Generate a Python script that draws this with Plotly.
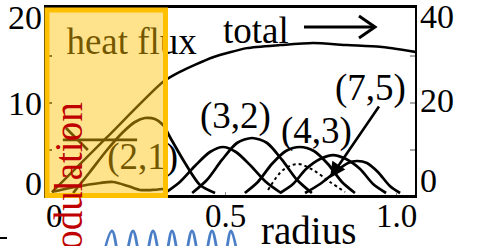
import plotly.graph_objects as go

W, H = 488, 246
FONT = "Liberation Serif"

# ---------------- data ----------------
x_tick_vals = [0, 0.5, 1.0]
x_tick_text = ["0", "0.5", "1.0"]
left_tick_text = ["20", "10", "0"]
right_tick_text = ["40", "20", "0"]

# total heat flux (right axis, 0..40)
total_r = [-0.006, 0.155, 0.319, 0.368, 0.465, 0.564, 0.661, 0.757, 0.857, 0.953, 1.058]
total_v = [0.2, 12.9, 25.7, 28.0, 31.4, 33.5, 34.2, 34.7, 34.2, 33.8, 32.6]

# mode contributions (left axis, 0..20)
mode_21_r = [0.056, 0.105, 0.155, 0.202, 0.237, 0.266, 0.295, 0.319, 0.339, 0.383, 0.427, 0.471]
mode_21_v = [0.0, 2.43, 4.97, 7.05, 8.21, 8.67, 8.55, 7.86, 6.47, 3.47, 0.92, 0.0]

mode_a_r = [0.325, 0.368, 0.412, 0.456, 0.494, 0.532, 0.576, 0.620, 0.664]
mode_a_v = [0.0, 1.27, 3.12, 4.74, 5.32, 4.74, 3.12, 1.27, 0.0]

mode_32_r = [0.404, 0.447, 0.491, 0.535, 0.579, 0.623, 0.667, 0.711, 0.754]
mode_32_v = [0.0, 1.50, 3.82, 5.78, 6.36, 5.78, 3.82, 1.50, 0.0]

mode_b_r = [0.558, 0.596, 0.637, 0.678, 0.719, 0.760, 0.801, 0.842, 0.880]
mode_b_v = [0.0, 1.27, 3.35, 4.86, 5.32, 4.86, 3.35, 1.27, 0.0]

mode_43_r = [0.661, 0.699, 0.737, 0.778, 0.816, 0.854, 0.895, 0.933, 0.971]
mode_43_v = [0.0, 1.04, 2.77, 3.93, 4.39, 3.93, 2.77, 1.04, 0.0]

mode_75_r = [0.734, 0.778, 0.822, 0.860, 0.886, 0.915, 0.947, 0.982, 1.012]
mode_75_v = [0.0, 1.04, 2.43, 3.47, 3.70, 3.47, 2.43, 0.81, 0.0]

mode_dash_r = [0.626, 0.670, 0.713, 0.757, 0.807, 0.851]
mode_dash_v = [0.35, 2.66, 3.35, 2.66, 1.27, 0.12]

low_wave_r = [-0.006, 0.061, 0.135, 0.173, 0.216, 0.251, 0.287, 0.319]
low_wave_v = [0.12, 0.69, 1.16, 1.27, 0.81, 0.35, 0.35, 0.46]

bar_r = [0.026, 0.243]
bar_v = [6.13, 6.13]
slash_r = [0.035, 0.099]
slash_v = [7.51, 4.97]

# partial modulation wave below the chart (pixel-like time axis)
wave_t = [100, 112, 122, 133, 143, 153, 163, 172, 182, 192, 202, 212, 222, 231, 240]
wave_v = [-1, 1, -1, 1, -1, 1, -1, 1, -1, 1, -1, 1, -1, 1, -1]

# ---------------- geometry helpers (pixel layout) ----------------
def px(xp):
    return xp / W

def py(yp):
    return 1 - yp / H

X_RANGE = [-0.02339, 1.05556]
Y_RANGE = [-0.2312, 21.387]
Y2_RANGE = [-0.4624, 42.775]

fig = go.Figure()

line_style = dict(color="black", width=2.7, shape="spline", smoothing=0.8)

fig.add_trace(go.Scatter(x=total_r, y=total_v, yaxis="y2", mode="lines",
                         line=dict(color="black", width=2.5, shape="spline", smoothing=0.6)))
for rr, vv in [(mode_21_r, mode_21_v), (mode_a_r, mode_a_v), (mode_32_r, mode_32_v),
               (mode_b_r, mode_b_v), (mode_43_r, mode_43_v), (mode_75_r, mode_75_v)]:
    fig.add_trace(go.Scatter(x=rr, y=vv, mode="lines", line=line_style))
fig.add_trace(go.Scatter(x=mode_dash_r, y=mode_dash_v, mode="lines",
                         line=dict(color="black", width=2, dash="dot", shape="spline")))
fig.add_trace(go.Scatter(x=low_wave_r, y=low_wave_v, mode="lines", line=line_style))
fig.add_trace(go.Scatter(x=bar_r, y=bar_v, mode="lines", line=dict(color="black", width=2.7)))
fig.add_trace(go.Scatter(x=slash_r, y=slash_v, mode="lines", line=dict(color="black", width=2.7)))

# labels that sit under the translucent box (drawn as text traces so the box tints them)
fig.add_trace(go.Scatter(x=[0.227, 0.259], y=[17.1, 3.9], mode="text",
                         text=["heat flux", "(2,1)"], textposition="middle center",
                         textfont=dict(family=FONT, size=37, color="black"),
                         cliponaxis=False))

# blue modulation wave (bottom strip)
fig.add_trace(go.Scatter(x=wave_t, y=wave_v, xaxis="x3", yaxis="y3", mode="lines",
                         line=dict(color="#4A7EC6", width=2.8, shape="spline", smoothing=1.0)))

for tr in fig.data:
    tr.showlegend = False
    tr.hoverinfo = "skip"

shapes = []
# inner tick marks on left/right frame
for yp in [56, 103, 150]:
    shapes.append(dict(type="line", xref="paper", yref="paper", x0=px(410), x1=px(415),
                       y0=py(yp), y1=py(yp), line=dict(color="#8c8c8c", width=1.5)))
    shapes.append(dict(type="line", xref="paper", yref="paper", x0=px(46), x1=px(52),
                       y0=py(yp), y1=py(yp), line=dict(color="#000000", width=1.5)))
# total arrow
shapes.append(dict(type="line", xref="paper", yref="paper", x0=px(304), x1=px(374),
                   y0=py(27), y1=py(27), line=dict(color="black", width=3)))
shapes.append(dict(type="path", xref="paper", yref="paper",
                   path=f"M {px(359)} {py(16)} L {px(375)} {py(27)} L {px(359)} {py(38)}",
                   line=dict(color="black", width=3)))
# translucent highlight box
shapes.append(dict(type="rect", xref="paper", yref="paper", layer="above",
                   x0=px(47), x1=px(165.5), y0=py(195.5), y1=py(10),
                   line=dict(color="#FFC000", width=5), fillcolor="rgba(255,192,0,0.45)"))
# stray dash at left bottom
shapes.append(dict(type="line", xref="paper", yref="paper", x0=px(0), x1=px(7),
                   y0=py(238), y1=py(238), line=dict(color="black", width=2)))

annotations = []
for txt, yp in zip(left_tick_text, [18, 103, 183]):
    annotations.append(dict(text=txt, xref="paper", yref="paper", x=px(44), y=py(yp),
                            xanchor="right", yanchor="middle", showarrow=False,
                            font=dict(family=FONT, size=34, color="black")))
for txt, yp in zip(right_tick_text, [16, 100, 180]):
    annotations.append(dict(text=txt, xref="paper", yref="paper", x=px(418), y=py(yp),
                            xanchor="left", yanchor="middle", showarrow=False,
                            font=dict(family=FONT, size=34, color="black")))
for txt, xv in zip(x_tick_text, x_tick_vals):
    annotations.append(dict(text=txt, xref="x", yref="paper", x=xv, y=py(216),
                            xanchor="center", yanchor="middle", showarrow=False,
                            font=dict(family=FONT, size=33, color="black")))
for txt, xp, yp in [("total", 256, 30), ("(3,2)", 235, 116), ("(4,3)", 316, 131), ("(7,5)", 370, 88)]:
    annotations.append(dict(text=txt, xref="paper", yref="paper", x=px(xp), y=py(yp),
                            xanchor="center", yanchor="middle", showarrow=False,
                            font=dict(family=FONT, size=37, color="black")))
# arrow for (7,5)
annotations.append(dict(text="", xref="paper", yref="paper", x=px(330), y=py(178),
                        ax=50, ay=-73, showarrow=True, arrowhead=2, arrowsize=1.2,
                        arrowwidth=2.6, arrowcolor="black"))
annotations.append(dict(text="radius", xref="paper", yref="paper", x=px(308), y=py(230),
                        xanchor="center", yanchor="middle", showarrow=False,
                        font=dict(family=FONT, size=39, color="black")))
annotations.append(dict(text="modulation", xref="paper", yref="paper", x=px(68), y=py(191),
                        xanchor="center", yanchor="middle", showarrow=False, textangle=-90,
                        font=dict(family=FONT, size=39, color="#C00000")))

fig.update_layout(
    width=W, height=H,
    margin=dict(l=0, r=0, t=0, b=0, pad=0),
    paper_bgcolor="white", plot_bgcolor="white",
    showlegend=False,
    xaxis=dict(domain=[46 / W, 415 / W], range=X_RANGE, anchor="y",
               tickvals=x_tick_vals, showticklabels=False, ticks="inside", ticklen=3,
               tickcolor="#8c8c8c", showgrid=False, zeroline=False,
               showline=True, linecolor="black", linewidth=3, mirror=True),
    yaxis=dict(domain=[1 - 195 / H, 1 - 8 / H], range=Y_RANGE, anchor="x",
               showticklabels=False, ticks="", showgrid=False, zeroline=False,
               showline=True, linecolor="black", linewidth=2, mirror=True),
    yaxis2=dict(range=Y2_RANGE, overlaying="y", side="right", anchor="x",
                showticklabels=False, ticks="", showgrid=False, zeroline=False),
    xaxis3=dict(domain=[0, 1], range=[0, W], anchor="y3", visible=False),
    yaxis3=dict(domain=[0, 0.1], range=[0.25, 1.48], anchor="x3", visible=False),
    shapes=shapes,
    annotations=annotations,
)

fig.write_html("out.html", config={"displayModeBar": False},
               post_script="document.body.style.margin='0px';document.body.style.overflow='hidden';")
